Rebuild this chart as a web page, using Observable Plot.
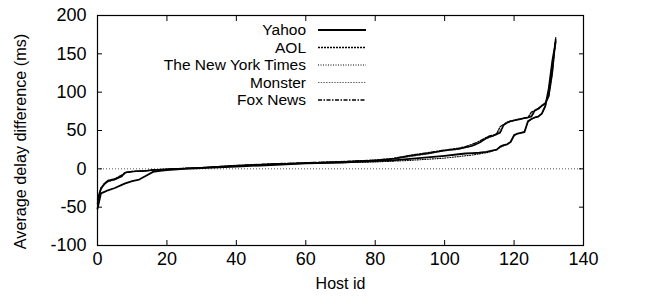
<!DOCTYPE html>
<html><head><meta charset="utf-8">
<script src="https://cdn.jsdelivr.net/npm/d3@7"></script>
<script src="https://cdn.jsdelivr.net/npm/@observablehq/plot@0.6"></script>
<style>
body{margin:0;background:#fff;}
#chart{position:relative;width:664px;height:300px;}
#legend{position:absolute;left:0;top:0;pointer-events:none;}
</style></head><body><div id="chart"></div>
<script>
const hostIds = [0,1,2,3,5,7,8,10,12,14,16,18,20,25,30,40,50,60,70,80,85,90,95,100,104,106,108,110,112,113,114,115,116,117,118,119,120,121,122,123,124,125,126,127,128,129,130,131,132];

const yahoo = [-52,-32,-30,-28,-25,-21,-19,-16,-14,-9,
  -4,-2.5,-1.5,0,1,3,5,7,8,10,
  11,13,15,17,19,20,20.5,21,22,23,
  24,25,29,31,32,35,44,46,47,48,
  62,65,67,68,72,82,105,140,166];

const aol = [-45,-26,-20,-16,-14,-10,-5,-3.5,-3,-2.5,
  -1.5,-1,-0.5,0.5,1.5,4,6,7.5,9,11,
  13,17,20,24,26,28,30,34,40,42,
  43,45,47,57,60,62,63,64,65,66,
  67,68,76,78,82,85,95,125,170];

const nyt = [-38,-25,-19,-16,-13,-9,-5,-3.5,-3,-2.5,
  -1.5,-1,-0.5,0.5,1.5,4,6,7,8,9,
  10,11,12.5,14,16,17,18,19.5,21,22,
  23.5,25,28,30,32,35,43,46,47,49,
  61,65,67,69,72,81,104,138,166];

const monster = [-42,-27,-20,-17,-14,-9,-5,-3.5,-3,-2.5,
  -1.5,-1,-0.5,0.5,1.5,4,6,7.5,9,10.5,
  12.5,16,19.5,23.5,25.5,27.5,30,34,39,41,
  43,45,50,57,60,62,63,64,65,66,
  67,70,77,79,82,85,94,122,168];

const fox = [-40,-25,-19,-15,-13,-8,-4.5,-3.5,-3,-2.5,
  -1.5,-1,-0.5,0.5,1.5,4.5,6.5,8,9.5,11.5,
  13.5,17.5,21,24.5,27,29,32,36,41,43,
  44,46,55,58,61,62.5,63.5,64.5,65.5,66.5,
  67,74,76,79,83,86,97,128,171];

const seriesNames = ["Yahoo", "AOL", "The New York Times", "Monster", "Fox News"];
const seriesValues = [yahoo, aol, nyt, monster, fox];
const xTicks = [0, 20, 40, 60, 80, 100, 120, 140];
const yTicks = [-100, -50, 0, 50, 100, 150, 200];
const xTitle = "Host id";
const yTitle = "Average delay difference (ms)";

const lineStyle = {
  "Yahoo": {stroke: "#000", strokeWidth: 1.8, strokeDasharray: null},
  "AOL": {stroke: "#000", strokeWidth: 1.5, strokeDasharray: "2,1"},
  "The New York Times": {stroke: "#000", strokeWidth: 1.1, strokeDasharray: "1,1.5"},
  "Monster": {stroke: "#666", strokeWidth: 1.2, strokeDasharray: "1.5,1.2"},
  "Fox News": {stroke: "#000", strokeWidth: 1.3, strokeDasharray: "4,1.5,1.5,1.5"}
};

const rows = seriesNames.flatMap((name, i) =>
  hostIds.map((h, j) => ({series: name, host: h, delay: seriesValues[i][j]})));

const drawOrder = ["Monster", "The New York Times", "AOL", "Fox News", "Yahoo"];
const FONT = "'Liberation Sans', Arial, Helvetica, sans-serif";
const fmt = d => `${d}`;

const plot = Plot.plot({
  width: 664,
  height: 300,
  marginLeft: 97,
  marginRight: 81,
  marginTop: 15,
  marginBottom: 55,
  style: {fontFamily: FONT, fontSize: "16px", color: "#000", background: "#fff", overflow: "visible"},
  x: {domain: [0, 140]},
  y: {domain: [-100, 200]},
  marks: [
    Plot.ruleY([0], {stroke: "#555", strokeWidth: 1, strokeDasharray: "1,2"}),
    ...drawOrder.map(name => Plot.line(rows.filter(r => r.series === name), {
      x: "host", y: "delay", ...lineStyle[name], strokeLinejoin: "round"
    })),
    Plot.frame({stroke: "#000", strokeWidth: 1.2}),
    Plot.axisX(xTicks, {anchor: "bottom", tickSize: -5, tickPadding: 12, tickFormat: fmt, fontSize: 18, label: null}),
    Plot.axisX(xTicks, {anchor: "top", tickSize: -5, tickFormat: () => "", label: null}),
    Plot.axisY(yTicks, {anchor: "left", tickSize: -5, tickPadding: 16, tickFormat: fmt, fontSize: 18, label: null}),
    Plot.axisY(yTicks, {anchor: "right", tickSize: -5, tickFormat: () => "", label: null}),
    Plot.text([xTitle], {text: d => d, frameAnchor: "bottom", dy: 38, fontSize: 16, lineAnchor: "middle"}),
    Plot.text([yTitle], {text: d => d, frameAnchor: "left", rotate: -90, dx: -77, dy: 11, fontSize: 16.2,
      textAnchor: "middle", lineAnchor: "middle"})
  ]
});

const chart = document.getElementById("chart");
chart.appendChild(plot);

// legend placed inside the plot area
const ns = "http://www.w3.org/2000/svg";
const leg = document.createElementNS(ns, "svg");
leg.setAttribute("id", "legend");
leg.setAttribute("width", 664);
leg.setAttribute("height", 300);
seriesNames.forEach((name, i) => {
  const cy = 30 + i * 17.5;
  const t = document.createElementNS(ns, "text");
  t.setAttribute("x", 306);
  t.setAttribute("y", cy);
  t.setAttribute("dy", "0.35em");
  t.setAttribute("text-anchor", "end");
  t.setAttribute("font-family", FONT);
  t.setAttribute("font-size", "15.5px");
  t.textContent = name;
  leg.appendChild(t);
  const l = document.createElementNS(ns, "line");
  l.setAttribute("x1", 318); l.setAttribute("x2", 366);
  l.setAttribute("y1", cy); l.setAttribute("y2", cy);
  const s = lineStyle[name];
  l.setAttribute("stroke", s.stroke);
  l.setAttribute("stroke-width", s.strokeWidth);
  if (s.strokeDasharray) l.setAttribute("stroke-dasharray", s.strokeDasharray);
  leg.appendChild(l);
});
chart.appendChild(leg);
</script></body></html>
